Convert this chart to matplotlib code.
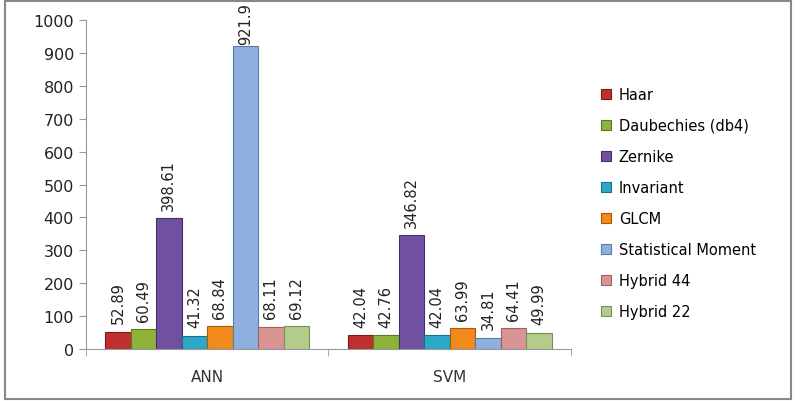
import numpy as np
import matplotlib.pyplot as plt
from matplotlib.patches import Rectangle

plt.rcParams['font.family'] = ['DejaVu Sans']

categories = ["ANN", "SVM"]
series = ["Haar", "Daubechies (db4)", "Zernike", "Invariant", "GLCM",
          "Statistical Moment", "Hybrid 44", "Hybrid 22"]
ann_values = [52.89, 60.49, 398.61, 41.32, 68.84, 921.9, 68.11, 69.12]
svm_values = [42.04, 42.76, 346.82, 42.04, 63.99, 34.81, 64.41, 49.99]
colors = ["#C0302F", "#8DB33A", "#7050A0", "#2EA8C8", "#F08A1C",
          "#8EB0DE", "#D99594", "#B3CB8B"]
edge_colors = ["#7A1A1A", "#5A7A20", "#463068", "#1A7088", "#A85A08",
               "#5A7AA8", "#A06060", "#7A9058"]

fig = plt.figure(figsize=(8.01, 4.02), dpi=100)
fig.patches.append(Rectangle((0.006, 0.005), 0.982, 0.99, transform=fig.transFigure,
                             fill=False, edgecolor="#888888", linewidth=1.5))
ax = fig.add_axes([0.107, 0.129, 0.606, 0.819])

x = np.arange(len(categories))
n = len(series)
group_w = 0.84
w = group_w / n
for i, name in enumerate(series):
    vals = [ann_values[i], svm_values[i]]
    pos = x - group_w / 2 + w * (i + 0.5)
    ax.bar(pos, vals, width=w, color=colors[i], edgecolor=edge_colors[i],
           linewidth=0.8, label=name)
    for p, v in zip(pos, vals):
        # keep tall-bar labels inside the frame, like Excel does
        ly = min(v + 25, 926)
        ax.text(p, ly, f"{v:g}", rotation=90, ha="center", va="bottom",
                fontsize=10.5, color="#222222", clip_on=False)

ax.set_xlim(-0.5, 1.5)
ax.set_ylim(0, 1000)
ax.set_yticks(range(0, 1001, 100))
ax.set_xticks(x)
ax.set_xticklabels(categories, fontsize=11, color="#333333")
ax.set_xticks([-0.5, 0.5, 1.5], minor=True)
ax.tick_params(axis="x", which="major", length=0, pad=14)
ax.tick_params(axis="x", which="minor", length=5, color="#999999")
ax.tick_params(axis="y", length=5, color="#999999", labelsize=11.5, labelcolor="#222222")
for s in ["top", "right"]:
    ax.spines[s].set_visible(False)
for s in ["left", "bottom"]:
    ax.spines[s].set_color("#999999")

ax.legend(loc="center left", bbox_to_anchor=(1.035, 0.444), frameon=False,
          fontsize=10.5, handlelength=0.7, handleheight=0.7, labelspacing=1.1,
          handletextpad=0.5)

fig.savefig("out.png", dpi=100)
